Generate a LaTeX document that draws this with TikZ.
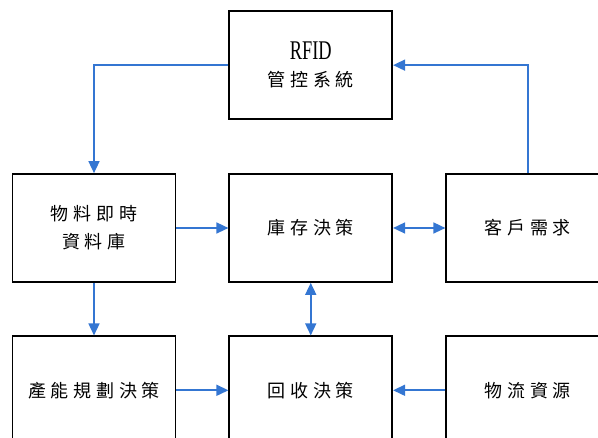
\documentclass[tikz,border=0pt]{standalone}
\usepackage{fontspec}
\newfontfamily\cjk[LetterSpace=26]{Noto Sans CJK TC}
\newfontfamily\latinf{Liberation Serif}
\usetikzlibrary{arrows.meta}
\definecolor{flowblue}{RGB}{52,118,210}
\tikzset{
  box/.style={draw=black, line width=1.7pt, minimum width=163pt, minimum height=108pt, inner sep=0pt, align=center, font=\cjk\fontsize{18}{28}\selectfont},
  flow/.style={draw=flowblue, line width=1.6pt, -{Triangle[length=12pt,width=11pt]}},
  flow2/.style={draw=flowblue, line width=1.6pt, {Triangle[length=12pt,width=11pt]}-{Triangle[length=12pt,width=11pt]}}
}
\begin{document}
\begin{tikzpicture}[x=1pt,y=1pt]
\useasboundingbox (0,0) rectangle (598,438);
\clip (0,0) rectangle (598,438);
\node[box] (rfid) at (310.75,372.85) {{\latinf\fontsize{27}{28}\selectfont\scalebox{0.68}[1]{RFID}}\\[-1pt]管控系統};
\node[box] (mat) at (94,210) {物料即時\\資料庫};
\node[box] (inv) at (310.75,210) {庫存決策};
\node[box] (cus) at (527.75,210) {客戶需求};
\node[box] (cap) at (94,47.7) {產能規劃決策};
\node[box] (rec) at (310.75,47.7) {回收決策};
\node[box] (log) at (527.75,47.7) {物流資源};
\draw[flow] (rfid.west) -| (mat.north);
\draw[flow] (cus.north) |- (rfid.east);
\draw[flow] (mat.east) -- (inv.west);
\draw[flow2] (inv.east) -- (cus.west);
\draw[flow2] (inv.south) -- (rec.north);
\draw[flow] (mat.south) -- (cap.north);
\draw[flow] (cap.east) -- (rec.west);
\draw[flow] (log.west) -- (rec.east);
\end{tikzpicture}
\end{document}
